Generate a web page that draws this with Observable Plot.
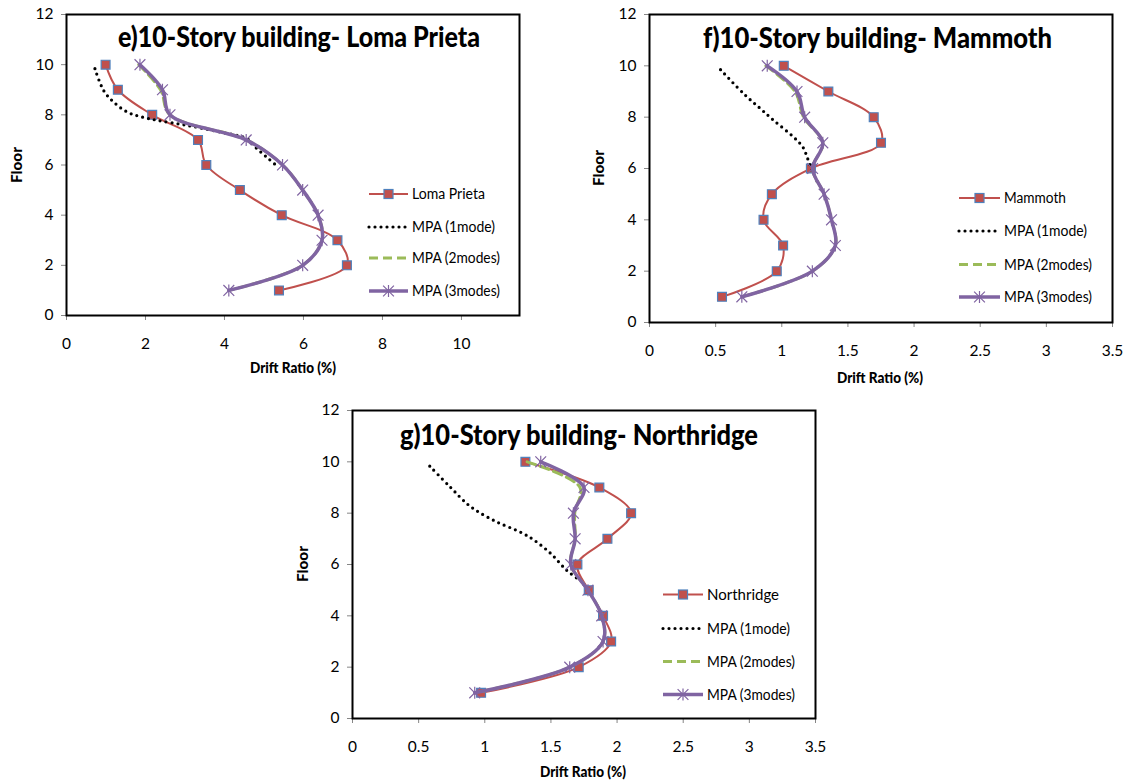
<!DOCTYPE html>
<html><head><meta charset="utf-8">
<script src="https://cdn.jsdelivr.net/npm/d3@7"></script>
<script src="https://cdn.jsdelivr.net/npm/@observablehq/plot@0.6"></script>
<style>
body{margin:0;background:#fff;}
#root{position:relative;width:1126px;height:783px;overflow:hidden;background:#fff;font-family:Lato,"Open Sans",sans-serif;}
.panel{position:absolute;}
#overlay{position:absolute;left:0;top:0;pointer-events:none;}
</style></head><body><div id="root"></div>
<script>
// ---------- DATA ----------
const floors = [10,9,8,7,6,5,4,3,2,1];
const yTicks = [0,2,4,6,8,10,12];

// e) Loma Prieta
const lomaPrieta = [0.99,1.30,2.17,3.33,3.54,4.39,5.45,6.86,7.10,5.38];
const lomaMPA2   = [1.83,2.38,2.62,4.55,5.47,5.98,6.37,6.47,5.98,4.11];
const lomaMPA3   = [1.86,2.43,2.62,4.55,5.47,5.98,6.37,6.47,5.98,4.11];
const lomaMPA1Floor = [9.84,8.97,8.50,8.11,7.93,7.78,7.58,7.31,7.05,6.71,6.31,6.00];
const lomaMPA1      = [0.72,0.94,1.20,1.54,1.87,2.30,3.05,3.90,4.57,4.78,5.07,5.30];
const lomaXTicks = [0,2,4,6,8,10];

// f) Mammoth
const mammoth     = [1.015,1.352,1.695,1.75,1.22,0.925,0.862,1.01,0.962,0.548];
const mammothMPA2 = [0.88,1.10,1.165,1.31,1.233,1.32,1.376,1.405,1.231,0.698];
const mammothMPA3 = [0.89,1.115,1.173,1.31,1.233,1.32,1.376,1.405,1.231,0.698];
const mammothMPA1Floor = [9.85,8.91,8.33,7.87,7.22,6.83,6.38,5.92,5.47];
const mammothMPA1      = [0.537,0.713,0.839,0.94,1.09,1.16,1.196,1.23,1.27];
const halfTicks = [0,0.5,1,1.5,2,2.5,3,3.5];

// g) Northridge
const northridge     = [1.307,1.866,2.106,1.927,1.70,1.786,1.894,1.955,1.71,0.972];
const northridgeMPA2 = [1.32,1.72,1.68,1.683,1.65,1.78,1.884,1.894,1.642,0.924];
const northridgeMPA3 = [1.423,1.75,1.67,1.683,1.65,1.78,1.884,1.894,1.642,0.924];
const northridgeMPA1Floor = [9.83,9.01,8.36,8.04,7.65,7.26,6.96,6.42,5.77,5.38];
const northridgeMPA1      = [0.584,0.74,0.867,0.955,1.094,1.27,1.37,1.50,1.62,1.72];

const titles = ["e)10-Story building- Loma Prieta","f)10-Story building- Mammoth","g)10-Story building- Northridge"];
const recordNames = ["Loma Prieta","Mammoth","Northridge"];
const mpaNames = ["MPA (1mode)","MPA (2modes)","MPA (3modes)"];
const xLabel = "Drift Ratio (%)";
const yLabel = "Floor";

// ---------- STYLE ----------
const RED = "#C0504D", BLUE = "#4F81BD", GREEN = "#9BBB59", PURPLE = "#8064A2";
const star = {
  draw(ctx, size) {
    const r = Math.sqrt(size / Math.PI), d = r * 0.9;
    ctx.moveTo(0, -r); ctx.lineTo(0, r);
    ctx.moveTo(-d, -d); ctx.lineTo(d, d);
    ctx.moveTo(-d, d); ctx.lineTo(d, -d);
  }
};

const rows = (xs, fl) => xs.map((x, i) => ({x, floor: fl[i]}));

function makePanel(cfg) {
  const rec = rows(cfg.rec, floors), m1 = rows(cfg.m1, cfg.m1f), m2 = rows(cfg.m2, floors), m3 = rows(cfg.m3, floors);
  const fmt = d => String(d);
  return Plot.plot({
    width: cfg.width, height: cfg.height,
    marginLeft: 66, marginRight: cfg.mr, marginTop: 14, marginBottom: cfg.mb,
    style: {fontFamily: "Lato, sans-serif", fontSize: "15.5px", color: "#000", background: "transparent", overflow: "visible"},
    x: {domain: cfg.xDomain, label: null},
    y: {domain: [0, 12], label: null},
    marks: [
      Plot.axisX({ticks: cfg.xTicks, tickFormat: fmt, tickSize: 5, tickPadding: 17, stroke: "#868686", fill: "#000", label: null}),
      Plot.axisY({ticks: yTicks, tickFormat: fmt, tickSize: 5, tickPadding: 8, stroke: "#868686", fill: "#000", label: null}),
      Plot.line(rec, {x: "x", y: "floor", curve: "catmull-rom", stroke: RED, strokeWidth: 2}),
      Plot.dot(rec, {x: "x", y: "floor", symbol: "square", r: 5, fill: RED, stroke: BLUE, strokeWidth: 1.2}),
      Plot.line(m1, {x: "x", y: "floor", curve: "catmull-rom", stroke: "#000", strokeWidth: 3.2, strokeDasharray: "0,6", strokeLinecap: "round"}),
      Plot.line(m2, {x: "x", y: "floor", curve: "catmull-rom", stroke: GREEN, strokeWidth: 3, strokeDasharray: "9,5"}),
      Plot.line(m3, {x: "x", y: "floor", curve: "catmull-rom", stroke: PURPLE, strokeWidth: 3.5}),
      Plot.dot(m3, {x: "x", y: "floor", symbol: star, r: 6, stroke: PURPLE, strokeWidth: 1.2}),
      Plot.frame({stroke: "#000", strokeWidth: 2})
    ]
  });
}

const root = document.getElementById("root");
const panels = [
  {left: 0, top: 0, width: 540, height: 385, mr: 21, mb: 70, xDomain: [0, 11.47], xTicks: lomaXTicks,
   rec: lomaPrieta, m1: lomaMPA1, m1f: lomaMPA1Floor, m2: lomaMPA2, m3: lomaMPA3,
   title: {x: 299, y: 47, w: 362}, legend: {x0: 369, x1: 408, tx: 412, ys: [194, 227, 258, 291]},
   ylab: {x: 17, y: 165}, xlab: {x: 293, y: 368}},
  {left: 583, top: 0, width: 543, height: 392, mr: 14, mb: 70, xDomain: [0, 3.5], xTicks: halfTicks,
   rec: mammoth, m1: mammothMPA1, m1f: mammothMPA1Floor, m2: mammothMPA2, m3: mammothMPA3,
   title: {x: 877.5, y: 47.5, w: 349}, legend: {x0: 959, x1: 1000, tx: 1004, ys: [198, 231, 264.5, 297]},
   ylab: {x: 599, y: 168}, xlab: {x: 880, y: 378}},
  {left: 286, top: 396, width: 543, height: 392, mr: 14, mb: 70, xDomain: [0, 3.5], xTicks: halfTicks,
   rec: northridge, m1: northridgeMPA1, m1f: northridgeMPA1Floor, m2: northridgeMPA2, m3: northridgeMPA3,
   title: {x: 579, y: 444.5, w: 358}, legend: {x0: 663, x1: 703, tx: 707, ys: [594.5, 628.5, 661.5, 694.5]},
   ylab: {x: 303, y: 564}, xlab: {x: 583, y: 772}}
];

panels.forEach(cfg => {
  const div = document.createElement("div");
  div.className = "panel";
  div.style.left = cfg.left + "px";
  div.style.top = cfg.top + "px";
  div.appendChild(makePanel(cfg));
  root.appendChild(div);
});

// overlay: titles, legends, axis labels
const svg = d3.select(root).append("svg").attr("id", "overlay").attr("width", 1126).attr("height", 783)
  .style("font-family", "Lato, sans-serif");

const legendWidths = [null, 83, 88, 88];
const recordWidths = [73, 62, 72];

panels.forEach((cfg, i) => {
  svg.append("text").text(titles[i])
    .attr("x", cfg.title.x).attr("y", cfg.title.y).attr("text-anchor", "middle")
    .attr("font-size", 28).attr("font-weight", 900).attr("fill", "#000")
    .attr("textLength", cfg.title.w).attr("lengthAdjust", "spacingAndGlyphs");
  svg.append("text").text(xLabel)
    .attr("x", cfg.xlab.x).attr("y", cfg.xlab.y).attr("text-anchor", "middle").attr("dy", "0.35em")
    .attr("font-size", 14.5).attr("font-weight", 900).attr("fill", "#000")
    .attr("textLength", 86).attr("lengthAdjust", "spacingAndGlyphs");
  svg.append("text").text(yLabel)
    .attr("transform", `translate(${cfg.ylab.x},${cfg.ylab.y}) rotate(-90)`)
    .attr("text-anchor", "middle").attr("dy", "0.35em")
    .attr("font-size", 14.5).attr("font-weight", 900).attr("fill", "#000")
    .attr("textLength", 36).attr("lengthAdjust", "spacingAndGlyphs");

  const L = cfg.legend, mid = (L.x0 + L.x1) / 2;
  const names = [recordNames[i], ...mpaNames];
  names.forEach((name, k) => {
    const y = L.ys[k];
    const g = svg.append("g");
    const ln = g.append("line").attr("x1", L.x0).attr("x2", L.x1).attr("y1", y).attr("y2", y);
    if (k === 0) {
      ln.attr("stroke", RED).attr("stroke-width", 2);
      g.append("rect").attr("x", mid - 4.5).attr("y", y - 4.5).attr("width", 9).attr("height", 9)
        .attr("fill", RED).attr("stroke", BLUE).attr("stroke-width", 1.2);
    } else if (k === 1) {
      ln.attr("stroke", "#000").attr("stroke-width", 3.2).attr("stroke-dasharray", "0,6").attr("stroke-linecap", "round");
    } else if (k === 2) {
      ln.attr("stroke", GREEN).attr("stroke-width", 3).attr("stroke-dasharray", "9,5");
    } else {
      ln.attr("stroke", PURPLE).attr("stroke-width", 3.5);
      const p = d3.path(); star.draw(p, Math.PI * 36);
      g.append("path").attr("d", p.toString()).attr("transform", `translate(${mid},${y})`)
        .attr("stroke", PURPLE).attr("stroke-width", 1.2).attr("fill", "none");
    }
    const w = k === 0 ? recordWidths[i] : legendWidths[k];
    g.append("text").text(name).attr("x", L.tx).attr("y", y).attr("dy", "0.35em")
      .attr("font-size", 15.5).attr("fill", "#000")
      .attr("textLength", w).attr("lengthAdjust", "spacingAndGlyphs");
  });
});
</script>
</body></html>
